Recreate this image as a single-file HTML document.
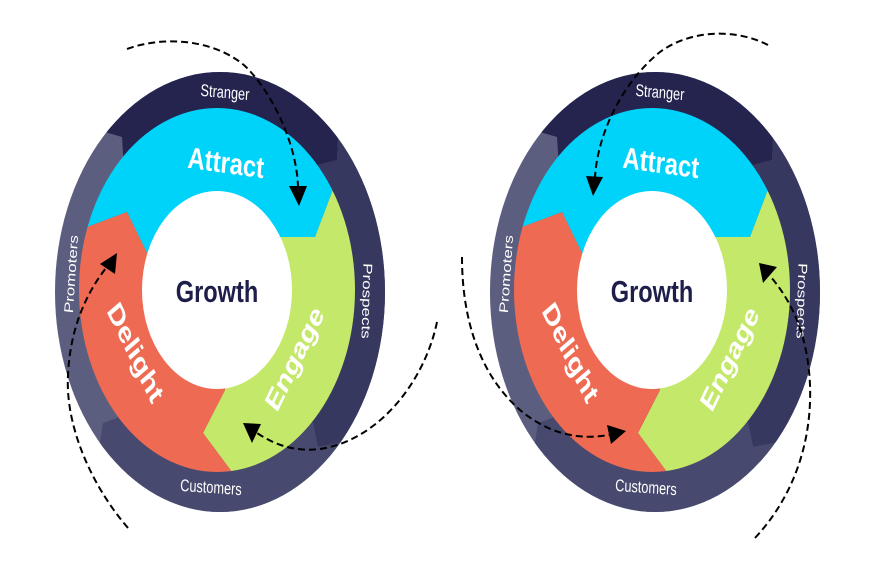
<!DOCTYPE html>
<html>
<head>
<meta charset="utf-8">
<style>
html,body{margin:0;padding:0;background:#ffffff;width:875px;height:583px;overflow:hidden}
svg{display:block}
</style>
</head>
<body>
<svg width="875" height="583" viewBox="0 0 875 583" xmlns="http://www.w3.org/2000/svg">
<defs>
  <clipPath id="oc"><ellipse cx="220" cy="292" rx="165" ry="220"/></clipPath>
  <clipPath id="rc"><ellipse cx="217" cy="290" rx="138" ry="182"/></clipPath>
</defs>
<rect width="875" height="583" fill="#ffffff"/>

<!-- LEFT WHEEL -->
<g>
  <g clip-path="url(#oc)">
    <rect x="0" y="0" width="440" height="583" fill="#5b5e7e"/>
    <polygon fill="#25244f" points="218,291 124,170 123,153 122,137 105,132 30,110 30,10 340,10 338,138 337,160 318,165 305,180"/>
    <polygon fill="#37385f" points="218,291 305,180 318,165 337,160 338,138 340,10 430,10 430,430 400,432 340,443 318,447 313,423 300,410"/>
    <polygon fill="#474a6e" points="218,291 300,410 313,423 318,447 340,443 400,432 430,430 430,580 20,580 20,475 95,475 100,442 103,423 117,418 130,400"/>
  </g>
  <g clip-path="url(#rc)">
    <polygon fill="#00d3f9" points="217,290 147,253 127,212 87,227 40,245 40,40 400,40 400,145 350,145 332,192 315,237 280,237"/>
    <polygon fill="#c4e86a" points="217,290 280,237 315,237 332,192 350,145 400,145 400,540 283,540 232,472 203,433 225,390"/>
    <polygon fill="#ee6a52" points="217,290 225,390 203,433 232,472 283,540 40,540 40,245 87,227 127,212 147,253"/>
  </g>
  <ellipse cx="217" cy="290" rx="75" ry="99" fill="#ffffff"/>
  <g font-family="'Liberation Sans', sans-serif" fill="#ffffff">
    <text transform="translate(225,92) scale(0.75,1) rotate(4)" font-size="17" text-anchor="middle" y="6">Stranger</text>
    <text transform="translate(211,487) scale(0.75,1) rotate(3)" font-size="17" text-anchor="middle" y="6">Customers</text>
    <text transform="translate(71,274) scale(0.75,1) rotate(-85)" font-size="17" text-anchor="middle" y="6">Promoters</text>
    <text transform="translate(367,301) scale(0.75,1) rotate(92)" font-size="17" text-anchor="middle" y="6">Prospects</text>
    <text transform="translate(226,162) scale(0.75,1) rotate(6)" font-size="30" font-weight="bold" text-anchor="middle" y="11" textLength="102" lengthAdjust="spacingAndGlyphs">Attract</text>
    <text transform="translate(136,352) scale(0.75,1) rotate(57)" font-size="30" font-weight="bold" text-anchor="middle" y="11" textLength="112" lengthAdjust="spacingAndGlyphs">Delight</text>
    <text transform="translate(294,358) scale(0.75,1) rotate(-57)" font-size="30" font-weight="bold" text-anchor="middle" y="11" textLength="118" lengthAdjust="spacingAndGlyphs">Engage</text>
    <text transform="translate(217,302) scale(0.75,1)" font-size="31" font-weight="bold" text-anchor="middle" fill="#1e1e4b" textLength="110" lengthAdjust="spacingAndGlyphs">Growth</text>
  </g>
</g>

<!-- RIGHT WHEEL -->
<g transform="translate(435,0)">
  <g clip-path="url(#oc)">
    <rect x="0" y="0" width="440" height="583" fill="#5b5e7e"/>
    <polygon fill="#25244f" points="218,291 124,170 123,153 122,137 105,132 30,110 30,10 340,10 338,138 337,160 318,165 305,180"/>
    <polygon fill="#37385f" points="218,291 305,180 318,165 337,160 338,138 340,10 430,10 430,430 400,432 340,443 318,447 313,423 300,410"/>
    <polygon fill="#474a6e" points="218,291 300,410 313,423 318,447 340,443 400,432 430,430 430,580 20,580 20,475 95,475 100,442 103,423 117,418 130,400"/>
  </g>
  <g clip-path="url(#rc)">
    <polygon fill="#00d3f9" points="217,290 147,253 127,212 87,227 40,245 40,40 400,40 400,145 350,145 332,192 315,237 280,237"/>
    <polygon fill="#c4e86a" points="217,290 280,237 315,237 332,192 350,145 400,145 400,540 283,540 232,472 203,433 225,390"/>
    <polygon fill="#ee6a52" points="217,290 225,390 203,433 232,472 283,540 40,540 40,245 87,227 127,212 147,253"/>
  </g>
  <ellipse cx="217" cy="290" rx="75" ry="99" fill="#ffffff"/>
  <g font-family="'Liberation Sans', sans-serif" fill="#ffffff">
    <text transform="translate(225,92) scale(0.75,1) rotate(4)" font-size="17" text-anchor="middle" y="6">Stranger</text>
    <text transform="translate(211,487) scale(0.75,1) rotate(3)" font-size="17" text-anchor="middle" y="6">Customers</text>
    <text transform="translate(71,274) scale(0.75,1) rotate(-85)" font-size="17" text-anchor="middle" y="6">Promoters</text>
    <text transform="translate(367,301) scale(0.75,1) rotate(92)" font-size="17" text-anchor="middle" y="6">Prospects</text>
    <text transform="translate(226,162) scale(0.75,1) rotate(6)" font-size="30" font-weight="bold" text-anchor="middle" y="11" textLength="102" lengthAdjust="spacingAndGlyphs">Attract</text>
    <text transform="translate(136,352) scale(0.75,1) rotate(57)" font-size="30" font-weight="bold" text-anchor="middle" y="11" textLength="112" lengthAdjust="spacingAndGlyphs">Delight</text>
    <text transform="translate(294,358) scale(0.75,1) rotate(-57)" font-size="30" font-weight="bold" text-anchor="middle" y="11" textLength="118" lengthAdjust="spacingAndGlyphs">Engage</text>
    <text transform="translate(217,302) scale(0.75,1)" font-size="31" font-weight="bold" text-anchor="middle" fill="#1e1e4b" textLength="110" lengthAdjust="spacingAndGlyphs">Growth</text>
  </g>
</g>

<!-- DASHED ARROWS -->
<g fill="none" stroke="#000000" stroke-width="2" stroke-dasharray="7 4">
  <path d="M127,49 C165,35 215,40 245,66 C270,90 296,140 298,186"/>
  <path d="M128,528 C95,490 65,430 68,375 C70,330 85,295 106,268"/>
  <path d="M437,322 C425,380 380,440 320,449 C295,452 275,445 257,433"/>
  <path d="M768,45 C735,28 690,30 660,52 C625,80 598,130 595,177"/>
  <path d="M462,257 C462,320 480,375 520,410 C550,435 580,440 609,435"/>
  <path d="M755,538 C795,495 812,440 810,385 C808,340 795,305 770,276"/>
</g>
<g fill="#000000">
  <polygon points="289,186 307,186 299,206"/>
  <polygon points="117,253 115,274 100,264"/>
  <polygon points="243,423 261,424 252,443"/>
  <polygon points="586,176 603,177 593,196"/>
  <polygon points="626,431 607,425 611,444"/>
  <polygon points="759,263 777,267 763,283"/>
</g>
</svg>
</body>
</html>
